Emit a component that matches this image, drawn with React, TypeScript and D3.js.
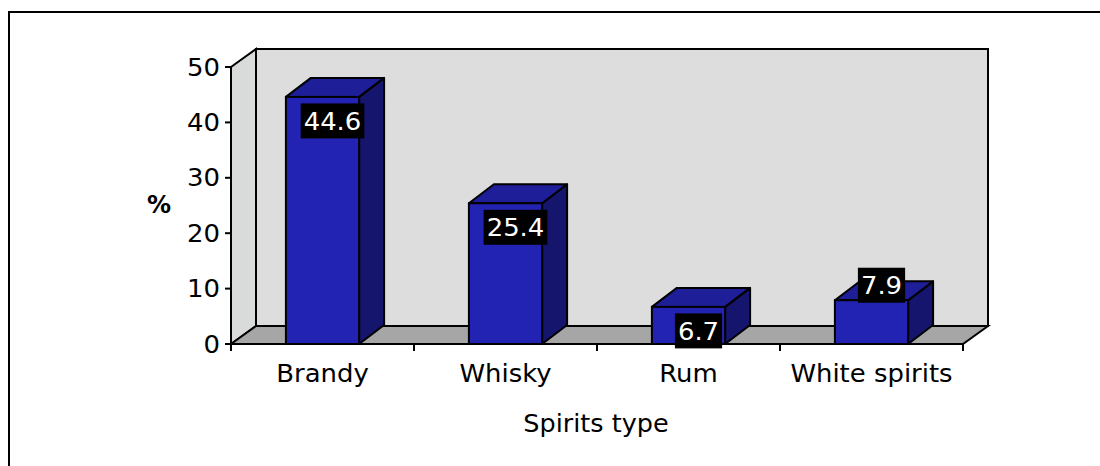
import React, { useEffect, useRef } from "react";
import * as d3 from "d3";

const categories = ["Brandy", "Whisky", "Rum", "White spirits"];
const values = [44.6, 25.4, 6.7, 7.9];
const yTicks = [0, 10, 20, 30, 40, 50];
const xTitle = "Spirits type";
const yTitle = "%";

export default function App() {
  const ref = useRef<SVGSVGElement | null>(null);

  useEffect(() => {
    const svg = d3.select(ref.current);
    svg.selectAll("*").remove();
    const W = 1100, H = 466;
    const left = 231, right = 963, bottom = 344, top = 67;
    const dx = 25, dy = -18;
    const font = "'DejaVu Sans', Verdana, sans-serif";
    const SX = 1.08;

    const addText = (parent: any, tx: number, ty: number, str: string, size: number, anchor: string, fill = "#000", sx = SX, weight = "normal") =>
      parent.append("text").attr("transform", `translate(${tx},${ty}) scale(${sx},1)`)
        .attr("text-anchor", anchor).attr("font-family", font).attr("font-size", size)
        .attr("font-weight", weight).attr("fill", fill).text(str);

    svg.append("rect").attr("x", 0).attr("y", 0).attr("width", W).attr("height", H).attr("fill", "#fff");
    svg.append("rect").attr("x", 9).attr("y", 12).attr("width", W + 20).attr("height", H + 20)
      .attr("fill", "none").attr("stroke", "#000").attr("stroke-width", 2);

    const x = d3.scaleBand<string>().domain(categories).range([left, right]).paddingInner(0.6).paddingOuter(0.3);
    const y = d3.scaleLinear().domain([0, 50]).range([bottom, top]);
    const step = x.step();

    const g = svg.append("g");
    const y0 = y(0), yMax = y(50);
    const pts = (a: number[][]) => a.map((p) => p.join(",")).join(" ");

    // back wall
    g.append("polygon").attr("points", pts([[left + dx, yMax + dy], [right + dx, yMax + dy], [right + dx, y0 + dy], [left + dx, y0 + dy]]))
      .attr("fill", "#dcdddc").attr("stroke", "#000").attr("stroke-width", 2);
    // left wall
    g.append("polygon").attr("points", pts([[left, yMax], [left + dx, yMax + dy], [left + dx, y0 + dy], [left, y0]]))
      .attr("fill", "#d9dada").attr("stroke", "#000").attr("stroke-width", 2);
    // floor
    g.append("polygon").attr("points", pts([[left, y0], [left + dx, y0 + dy], [right + dx, y0 + dy], [right, y0]]))
      .attr("fill", "#a6a6a6").attr("stroke", "#000").attr("stroke-width", 2);

    // axes
    g.append("line").attr("x1", left).attr("x2", left).attr("y1", yMax).attr("y2", y0 + 7)
      .attr("stroke", "#000").attr("stroke-width", 2);
    g.append("line").attr("x1", left).attr("x2", right).attr("y1", y0).attr("y2", y0)
      .attr("stroke", "#000").attr("stroke-width", 2);
    yTicks.forEach((t) => {
      g.append("line").attr("x1", left - 6).attr("x2", left).attr("y1", y(t)).attr("y2", y(t))
        .attr("stroke", "#000").attr("stroke-width", 2);
      addText(g, left - 11, y(t) + 8.5, String(t), 24, "end");
    });
    for (let i = 0; i <= categories.length; i++) {
      const xx = left + i * step;
      g.append("line").attr("x1", xx).attr("x2", xx).attr("y1", y0).attr("y2", y0 + 7)
        .attr("stroke", "#000").attr("stroke-width", 2);
    }
    categories.forEach((c) => {
      addText(g, (x(c) as number) + x.bandwidth() / 2, 382, c, 24, "middle");
    });

    // bars
    const bw = x.bandwidth();
    const bdx = 25, bdy = -19;
    categories.forEach((c, i) => {
      const x0 = x(c) as number;
      const yt = y(values[i]);
      const bg = g.append("g");
      bg.append("polygon").attr("points", pts([[x0 + bw, yt], [x0 + bw + bdx, yt + bdy], [x0 + bw + bdx, y0 + bdy], [x0 + bw, y0]]))
        .attr("fill", "#15156e").attr("stroke", "#000").attr("stroke-width", 2).attr("stroke-linejoin", "round");
      bg.append("polygon").attr("points", pts([[x0, yt], [x0 + bdx, yt + bdy], [x0 + bw + bdx, yt + bdy], [x0 + bw, yt]]))
        .attr("fill", "#1e1e98").attr("stroke", "#000").attr("stroke-width", 2).attr("stroke-linejoin", "round");
      bg.append("rect").attr("x", x0).attr("y", yt).attr("width", bw).attr("height", y0 - yt)
        .attr("fill", "#2323b3").attr("stroke", "#000").attr("stroke-width", 2);
    });

    // data labels
    categories.forEach((c, i) => {
      const cx = (x(c) as number) + bw / 2 + 10;
      const cy = y(values[i]) + (i === categories.length - 1 ? -15 : 24);
      const lg = g.append("g");
      const rect = lg.append("rect").attr("fill", "#000");
      const t = addText(lg, cx, cy + 9, values[i].toFixed(1), 24, "middle", "#fff");
      const w = (t.node() as SVGTextElement).getComputedTextLength() * SX + 6;
      rect.attr("x", cx - w / 2).attr("y", cy - 17.5).attr("width", w).attr("height", 35);
    });

    // titles
    addText(svg, 596, 432, xTitle, 25, "middle", "#000", 1.02);
    addText(svg, 159, 213, yTitle, 24, "middle", "#000", 1.0, "bold");
  }, []);

  return (
    <svg ref={ref} width={1100} height={466} style={{ position: "absolute", left: 0, top: 0, display: "block" }} />
  );
}
